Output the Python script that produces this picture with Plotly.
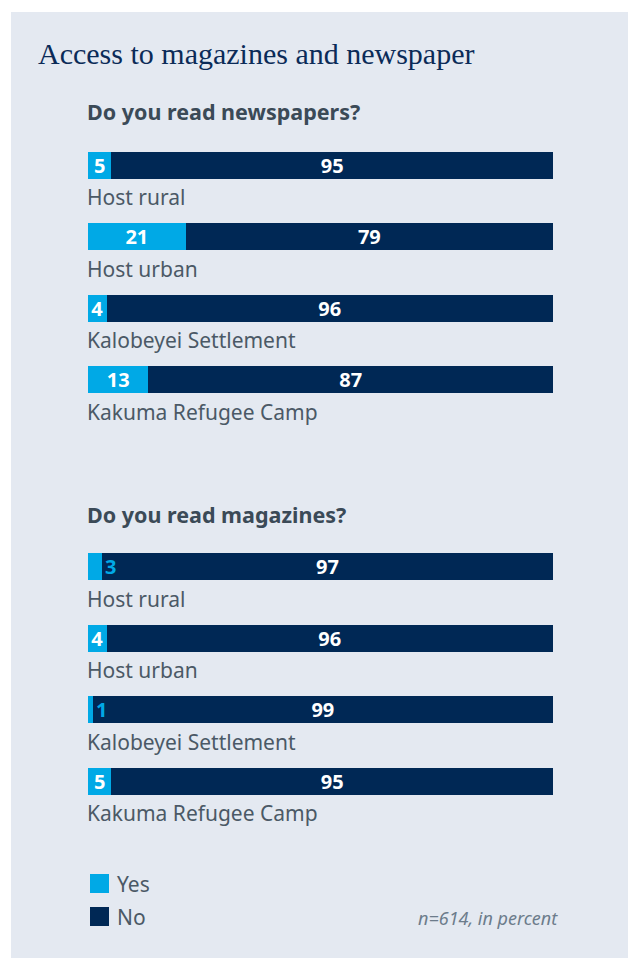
import plotly.graph_objects as go

# ---- data ----
categories = ["Host rural", "Host urban", "Kalobeyei Settlement", "Kakuma Refugee Camp"]
news_yes = [5, 21, 4, 13]
news_no = [95, 79, 96, 87]
mag_yes = [3, 4, 1, 5]
mag_no = [97, 96, 99, 95]
series_names = ["Yes", "No"]
title_text = "Access to magazines and newspaper"
q_news = "Do you read newspapers?"
q_mag = "Do you read magazines?"
footnote = "n=614, in percent"

# ---- style ----
W, H = 628, 958
YES_C = "#00a9e6"
NO_C = "#002855"
PANEL = "#e4e9f1"
LABEL_C = "#4b5966"
HEAD_C = "#3b4a57"
TITLE_C = "#0b2b58"
SANS = "Noto Sans"
VAL_SIZE = 20

def py(px):
    return 1 - px / H

def px_x(px):
    return px / W

fig = go.Figure()

groups = [("y", news_yes, news_no), ("y2", mag_yes, mag_no)]
annotations = []
for yref, yes, no in groups:
    yes_text = [str(v) if v >= 4 else "" for v in yes]
    fig.add_trace(go.Bar(
        y=categories, x=yes, orientation="h", name=series_names[0],
        marker=dict(color=YES_C, line=dict(width=0)), yaxis=yref,
        text=yes_text, textposition="inside", insidetextanchor="middle", textangle=0,
        textfont=dict(family=SANS, size=VAL_SIZE, color="white", weight="bold"),
        constraintext="none", showlegend=False, width=0.378,
    ))
    fig.add_trace(go.Bar(
        y=categories, x=no, orientation="h", name=series_names[1],
        marker=dict(color=NO_C, line=dict(width=0)), yaxis=yref,
        text=[str(v) for v in no], textposition="inside", insidetextanchor="middle",
        textangle=0,
        textfont=dict(family=SANS, size=VAL_SIZE, color="white", weight="bold"),
        constraintext="none", showlegend=False, width=0.378,
    ))
    for c, v in zip(categories, yes):
        if v < 4:
            annotations.append(dict(
                x=v, y=c, xref="x", yref=yref, text=f"<b>{v}</b>", showarrow=False,
                xanchor="left", xshift=1, font=dict(family=SANS, size=VAL_SIZE, color=YES_C)))
        annotations.append(dict(
            x=0, y=c, xref="x", yref=yref, text=c, showarrow=False,
            xanchor="left", yanchor="middle", xshift=-3, yshift=-32,
            font=dict(family=SANS, size=21, color=LABEL_C)))

# titles and headers
annotations += [
    dict(x=px_x(36), y=py(53), xref="paper", yref="paper", text=title_text,
         showarrow=False, xanchor="left", yanchor="middle",
         font=dict(family="Liberation Serif", size=30, color=TITLE_C)),
    dict(x=px_x(85), y=py(112), xref="paper", yref="paper", text=f"<b>{q_news}</b>",
         showarrow=False, xanchor="left", yanchor="middle",
         font=dict(family=SANS, size=21.5, color=HEAD_C)),
    dict(x=px_x(85), y=py(514), xref="paper", yref="paper", text=f"<b>{q_mag}</b>",
         showarrow=False, xanchor="left", yanchor="middle",
         font=dict(family=SANS, size=21.5, color=HEAD_C)),
    dict(x=px_x(115), y=py(884), xref="paper", yref="paper", text=series_names[0],
         showarrow=False, xanchor="left", yanchor="middle",
         font=dict(family=SANS, size=21, color=LABEL_C)),
    dict(x=px_x(115), y=py(917), xref="paper", yref="paper", text=series_names[1],
         showarrow=False, xanchor="left", yanchor="middle",
         font=dict(family=SANS, size=21, color=LABEL_C)),
    dict(x=px_x(560), y=py(918), xref="paper", yref="paper", text=f"<i>{footnote}</i>",
         showarrow=False, xanchor="right", yanchor="middle",
         font=dict(family=SANS, size=18, color="#6c7c8b")),
]

shapes = [
    dict(type="rect", xref="paper", yref="paper", x0=px_x(11), x1=1, y0=0, y1=py(12),
         fillcolor=PANEL, line=dict(width=0), layer="below"),
    dict(type="rect", xref="paper", yref="paper", x0=px_x(90), x1=px_x(109),
         y0=py(893), y1=py(874), fillcolor=YES_C, line=dict(width=0)),
    dict(type="rect", xref="paper", yref="paper", x0=px_x(90), x1=px_x(109),
         y0=py(926), y1=py(907), fillcolor=NO_C, line=dict(width=0)),
]

fig.update_layout(
    width=W, height=H, margin=dict(l=0, r=0, t=0, b=0),
    paper_bgcolor="white", plot_bgcolor="rgba(0,0,0,0)",
    barmode="stack",
    xaxis=dict(domain=[px_x(88), px_x(553)], range=[0, 100], visible=False, fixedrange=True),
    yaxis=dict(domain=[py(415.25), py(129.75)], range=[3.5, -0.5], autorange=False,
               visible=False, type="category"),
    yaxis2=dict(domain=[py(817.3), py(530.7)], range=[3.5, -0.5], autorange=False,
                visible=False, type="category", anchor="x"),
    annotations=annotations, shapes=shapes, showlegend=False,
)

fig.write_html("out.html")
